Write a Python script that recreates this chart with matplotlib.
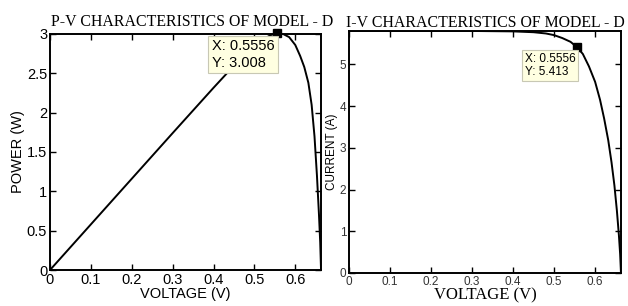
import numpy as np
import matplotlib
matplotlib.use("Agg")
import matplotlib.pyplot as plt
import matplotlib as mpl

mpl.rc('font', **{'family': 'sans-serif', 'sans-serif': ['Liberation Sans']})
mpl.rc('axes', linewidth=1.4, edgecolor="#000000")
mpl.rc('xtick', direction='in', top=True)
mpl.rc('ytick', direction='in', right=True)

# values
voltage = [0, 0.1, 0.2, 0.3, 0.4, 0.45, 0.48, 0.5, 0.52, 0.54, 0.5556, 0.57,
           0.585, 0.6, 0.612, 0.622, 0.632, 0.64, 0.647, 0.653, 0.658, 0.661, 0.663]
current = [5.80, 5.80, 5.80, 5.80, 5.79, 5.77, 5.74, 5.70, 5.63, 5.54, 5.413, 5.25,
           4.95, 4.58, 4.15, 3.70, 3.18, 2.65, 2.10, 1.50, 0.90, 0.45, 0.0]
power = [0, 0.58, 1.16, 1.74, 2.316, 2.597, 2.755, 2.85, 2.928, 2.986, 3.008, 3.0,
         2.96, 2.86, 2.72, 2.58, 2.38, 2.10, 1.70, 1.20, 0.70, 0.35, 0]

mpp_v = 0.5556
mpp_p = 3.008
mpp_i = 5.413

pv_title = "P-V CHARACTERISTICS OF MODEL - D"
iv_title = "I-V CHARACTERISTICS OF MODEL - D"
xticks = [0, 0.1, 0.2, 0.3, 0.4, 0.5, 0.6]
xticklabels = ["0", "0.1", "0.2", "0.3", "0.4", "0.5", "0.6"]
pticks = [0, 0.5, 1, 1.5, 2, 2.5, 3]
pticklabels = ["0", "0.5", "1", "1.5", "2", "2.5", "3"]
iticks = [0, 1, 2, 3, 4, 5]

fig = plt.figure(figsize=(6.28, 3.06), dpi=100)
serif = ['Liberation Serif']
tip_box = dict(boxstyle='square,pad=0.25', fc='#FFFFE1', ec='#C8C8B4', lw=0.8)

# --- P-V ---
ax1 = fig.add_axes([0.0796, 0.1176, 0.4316, 0.7714])
ax1.plot(voltage, power, color='black', lw=1.4)
ax1.plot([mpp_v], [mpp_p], 's', color='black', ms=6, clip_on=False, zorder=5)
ax1.set_xlim(0, voltage[-1])
ax1.set_ylim(0, 3)
ax1.set_xticks(xticks)
ax1.set_xticklabels(xticklabels)
ax1.set_yticks(pticks)
ax1.set_yticklabels(pticklabels)
ax1.tick_params(labelsize=10.5, length=4, width=1, pad=2)
ax1.set_xlabel("VOLTAGE (V)", fontsize=10.5, labelpad=0)
ax1.set_ylabel("POWER (W)", fontsize=10.5, labelpad=1)
ax1.set_title(pv_title, family=serif, fontsize=11.4, pad=6, x=0.525)
ax1.text(0.396, 2.74, "X: %.4f\nY: %.3f" % (mpp_v, mpp_p), fontsize=10.5,
         linespacing=1.2, va='center', ha='left', bbox=tip_box, zorder=6)

# --- I-V ---
ax2 = fig.add_axes([0.5557, 0.108, 0.4331, 0.7908])
ax2.plot(voltage, current, color='black', lw=1.4)
ax2.plot([mpp_v], [mpp_i], 's', color='black', ms=6, clip_on=False, zorder=5)
ax2.set_xlim(0, voltage[-1])
ax2.set_ylim(0, 5.8)
ax2.set_xticks(xticks)
ax2.set_xticklabels(xticklabels)
ax2.set_yticks(iticks)
ax2.tick_params(labelsize=8.5, length=4, width=1, pad=2, labelcolor='#333333')
ax2.set_xlabel("VOLTAGE (V)", family=serif, fontsize=12, labelpad=0)
ax2.set_ylabel("CURRENT (A)", fontsize=8.5, labelpad=1)
ax2.set_title(iv_title, family=serif, fontsize=11.4, pad=3)
ax2.text(0.428, 4.98, "X: %.4f\nY: %.3f" % (mpp_v, mpp_i), fontsize=8.5,
         linespacing=1.15, va='center', ha='left', bbox=tip_box, zorder=6)

fig.savefig("out.png", dpi=100)
